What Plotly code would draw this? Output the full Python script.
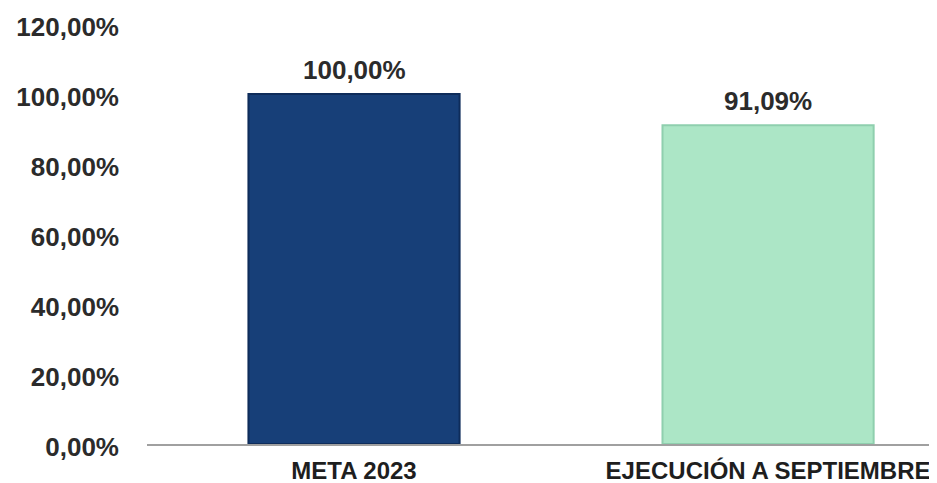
import plotly.graph_objects as go

categories = ["META 2023", "EJECUCIÓN A SEPTIEMBRE"]
values = [1.0, 0.9109]
bar_colors = ["#173f78", "#ace6c6"]
edge_colors = ["#0e2c5a", "#8fcfae"]

label_font = dict(family="Liberation Sans, Arial, sans-serif", size=26, color="#2b2b2b", weight="bold")

fig = go.Figure(
    go.Bar(
        x=categories,
        y=values,
        width=0.51,
        marker=dict(color=bar_colors, line=dict(color=edge_colors, width=2)),
        hoverinfo="x+y",
    )
)

for cat, val in zip(categories, values):
    fig.add_annotation(
        x=cat, y=val, text=f"{val * 100:.2f}%".replace(".", ","),
        showarrow=False, yanchor="bottom", yshift=7, font=label_font,
    )

fig.update_layout(
    width=937,
    height=483,
    margin=dict(l=139, r=8, t=16, b=47, autoexpand=False),
    paper_bgcolor="white",
    plot_bgcolor="white",
    separators=",.",
    showlegend=False,
)
fig.update_yaxes(
    range=[0, 1.2],
    dtick=0.2,
    tickformat=".2%",
    showgrid=False,
    zeroline=False,
    showline=False,
    automargin=False,
    ticklabelstandoff=27,
    ticklabelshift=3,
    tickfont=label_font,
)
fig.update_xaxes(
    range=[-0.5, 1.408],
    showline=True,
    linecolor="#a0a0a0",
    linewidth=2,
    ticks="",
    automargin=False,
    ticklabelstandoff=4,
    tickfont=dict(family="Liberation Sans, Arial, sans-serif", size=24, color="#1e1e1e", weight="bold"),
)

fig.write_html("out.html")
